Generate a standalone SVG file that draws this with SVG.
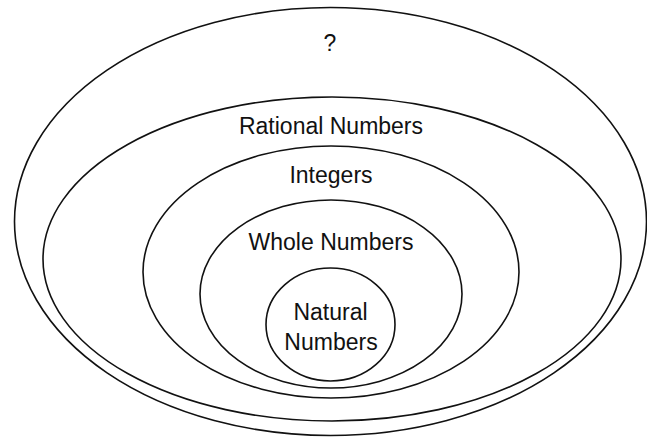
<svg xmlns="http://www.w3.org/2000/svg" width="647" height="437" viewBox="0 0 647 437">
  <style>
    .set { fill: none; stroke: #111; stroke-width: 1.6; }
    .lbl { font-family: "Gill Sans", "Liberation Sans", Arial, sans-serif; font-size: 23px; fill: #111; text-anchor: middle; }
  </style>
  <rect width="647" height="437" fill="#fff"/>
  <g id="unknown">
    <ellipse class="set" cx="330.5" cy="221.5" rx="316" ry="214"/>
    <text class="lbl" x="330" y="51">?</text>
  </g>
  <g id="rational">
    <ellipse class="set" cx="332" cy="259" rx="289" ry="162"/>
    <text class="lbl" x="331" y="134">Rational Numbers</text>
  </g>
  <g id="integers">
    <ellipse class="set" cx="331" cy="272" rx="188" ry="126"/>
    <text class="lbl" x="331" y="183">Integers</text>
  </g>
  <g id="whole">
    <ellipse class="set" cx="331" cy="294" rx="131" ry="94"/>
    <text class="lbl" x="331" y="250">Whole Numbers</text>
  </g>
  <g id="natural">
    <ellipse class="set" cx="330.5" cy="324.5" rx="64.5" ry="56.5"/>
    <text class="lbl" x="330.5" y="320">Natural</text>
    <text class="lbl" x="331" y="350">Numbers</text>
  </g>
  <g id="connectors"/>
</svg>
